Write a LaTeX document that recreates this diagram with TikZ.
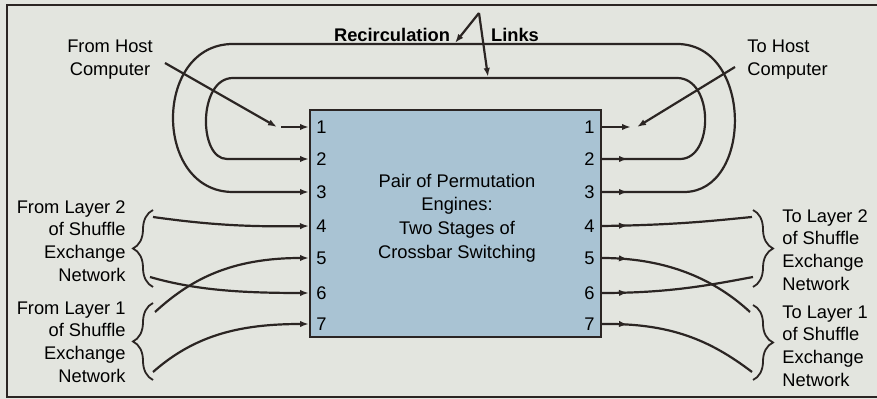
\documentclass[tikz,border=0pt]{standalone}
\usepackage{fontspec}
\setmainfont{Liberation Sans}
\usepackage{tikz}
\usetikzlibrary{arrows.meta, decorations.pathreplacing, decorations.markings}

\definecolor{paper}{HTML}{E3E5DF}
\definecolor{engineblue}{HTML}{A9C3D3}
\definecolor{ink}{HTML}{2B2523}

\tikzset{
  wire/.style={ink, line width=1.1pt},
  feed/.style={wire, -{Latex[length=4.5pt,width=3.2pt]}},
  outmark/.style={postaction={decorate},
    decoration={markings, mark=at position 13pt with {\arrow{Latex[length=4.5pt,width=3.2pt]}}}},
  bracel/.style={ink, line width=0.9pt, decorate, decoration={brace, amplitude=10pt}},
  lbl/.style={inner sep=0pt, font=\fontsize{9.15pt}{11.4pt}\selectfont},
}

\begin{document}
\begin{tikzpicture}[x=0.5pt, y=-0.5pt]
      % 1. paper and frame
      \fill[paper] (0,0) rectangle (877,399);
      \useasboundingbox (0,0) rectangle (877,399);
      \draw[ink, line width=1pt] (877,5) -- (7,5) -- (7,397) -- (877,397);

      % 2. the permutation engines and their ports
      \node[draw=ink, line width=1pt, fill=engineblue, inner sep=0pt,
            minimum width=145.5pt, minimum height=113.5pt] (engine) at (455.5,223.5) {};
      \node[lbl, align=center, font=\fontsize{9.15pt}{11.8pt}\selectfont] (engtext) at (457,218)
            {Pair of Permutation\\Engines:\\Two Stages of\\Crossbar Switching};
      \foreach \i/\y in {1/127,2/159,3/192,4/226,5/258,6/293,7/324}{
        \coordinate (in\i) at (engine.west |- 0,\y);
        \coordinate (out\i) at (engine.east |- 0,\y);
        \node[lbl, anchor=west, xshift=3.5pt] (inno\i) at (in\i) {\i};
        \node[lbl, anchor=east, xshift=-3.5pt] (outno\i) at (out\i) {\i};
      }

      % 3. host computer
      \node[lbl, align=center] (fromhost) at (110,60) {From Host\\Computer};
      \node[lbl, align=left, anchor=west] (tohost) at (747,60) {To Host\\Computer};
      \coordinate (hosttail) at (165,63);
      \coordinate (hosttip) at (277,127);
      \coordinate (hoststub) at (281,127);
      \coordinate (tohosttail) at (735,67);
      \coordinate (tohosttip) at (637,127);
      \coordinate (outstub) at (631,127);
      \draw[feed] (hosttail) -- (hosttip);
      \draw[feed] (hoststub) -- (in1);
      \draw[feed] (out1) -- (outstub);
      \draw[feed] (tohosttail) -- (tohosttip);

      % 4. recirculation links (2 and 3 loop back)
      \draw[feed, outmark] (out2) -- (680,159) .. controls (714,159) and (714,78) .. (677,78)
            -- (233,78) .. controls (198,78) and (198,159) .. (227,159) -- (in2);
      \draw[feed, outmark] (out3) -- (684,192) .. controls (753,192) and (753,44) .. (677,44)
            -- (233,44) .. controls (153,44) and (153,192) .. (233,192) -- (in3);
      \node[lbl, font=\fontsize{9.15pt}{11.4pt}\selectfont\bfseries] (recirc) at (392,35) {Recirculation};
      \node[lbl, font=\fontsize{9.15pt}{11.4pt}\selectfont\bfseries] (links) at (515,35) {Links};
      \coordinate (apex) at (479,13);
      \coordinate (tip3) at (455,43);
      \coordinate (tip2) at (488,77);
      \draw[feed] (apex) -- (tip3);
      \draw[feed] (apex) -- (tip2);

      % 5. shuffle exchange network, layers 1 and 2
      \node[lbl, align=right, anchor=east] (fromlayer2) at (126,241)
            {From Layer 2\\of Shuffle\\Exchange\\Network};
      \node[lbl, align=right, anchor=east] (fromlayer1) at (126,342)
            {From Layer 1\\of Shuffle\\Exchange\\Network};
      \node[lbl, align=left, anchor=west] (tolayer2) at (782,250)
            {To Layer 2\\of Shuffle\\Exchange\\Network};
      \node[lbl, align=left, anchor=west] (tolayer1) at (782,346)
            {To Layer 1\\of Shuffle\\Exchange\\Network};
      \draw[bracel] (153,287) -- (153,210);
      \draw[bracel] (153,380) -- (153,303);
      \draw[bracel] (753,210) -- (753,287);
      \draw[bracel] (753,305) -- (753,380);

      \coordinate (l2a) at (153,217);
      \coordinate (l2b) at (150,277);
      \coordinate (l1a) at (155,312);
      \coordinate (l1b) at (153,372);
      \draw[feed] (l2a) .. controls (210,225) and (250,227) .. (in4);
      \draw[feed] (l2b) .. controls (195,290) and (240,293) .. (in6);
      \draw[feed] (l1a) .. controls (190,280) and (230,258) .. (in5);
      \draw[feed] (l1b) .. controls (195,335) and (240,324) .. (in7);

      \coordinate (r2a) at (752,217);
      \coordinate (r2b) at (753,277);
      \coordinate (r1a) at (750,312);
      \coordinate (r1b) at (752,372);
      \draw[wire, outmark] (out4) .. controls (680,225) and (720,220) .. (r2a);
      \draw[wire, outmark] (out5) .. controls (660,258) and (710,275) .. (r1a);
      \draw[wire, outmark] (out6) .. controls (670,293) and (710,285) .. (r2b);
      \draw[wire, outmark] (out7) .. controls (670,323) and (710,340) .. (r1b);
\end{tikzpicture}
\end{document}
